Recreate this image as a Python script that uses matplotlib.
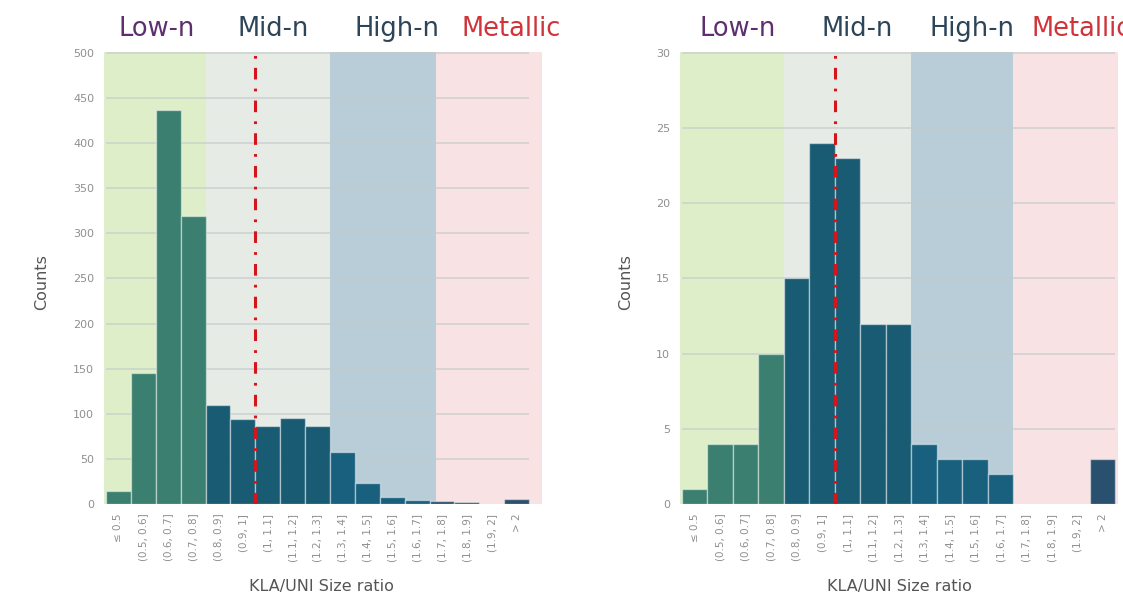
import matplotlib
matplotlib.use("Agg")
import matplotlib.pyplot as plt
import numpy as np

# ---------------- data ----------------
categories = ["≤ 0.5", "(0.5, 0.6]", "(0.6, 0.7]", "(0.7, 0.8]", "(0.8, 0.9]",
              "(0.9, 1]", "(1, 1.1]", "(1.1, 1.2]", "(1.2, 1.3]", "(1.3, 1.4]",
              "(1.4, 1.5]", "(1.5, 1.6]", "(1.6, 1.7]", "(1.7, 1.8]", "(1.8, 1.9]",
              "(1.9, 2]", "> 2"]
counts_left = [14, 145, 437, 319, 110, 94, 87, 95, 86, 58, 23, 8, 4, 3, 2, 0, 6]
counts_right = [1, 4, 4, 10, 15, 24, 23, 12, 12, 4, 3, 3, 2, 0, 0, 0, 3]
# region of each category: 0 low-n, 1 mid-n, 2 high-n, 3 metallic
region_of_cat = [0, 0, 0, 0, 1, 1, 1, 1, 1, 2, 2, 2, 2, 3, 3, 3, 3]
region_names = ["Low-n", "Mid-n", "High-n", "Metallic"]
yticks_left = list(range(0, 501, 50))
yticks_right = list(range(0, 31, 5))
xlabel = "KLA/UNI Size ratio"
ylabel = "Counts"

# ---------------- style ----------------
bar_colors = ["#3a7f6f", "#185b73", "#19607e", "#2a5070"]
band_colors = ["#ddeec9", "#e6ebe5", "#b8cdd8", "#f8e2e3"]
label_colors = ["#5e2f70", "#2d4559", "#2d4559", "#d0343a"]
grid_color = "#c3caca"
tick_color = "#8f8f8f"

W, H = 1123, 597
fig = plt.figure(figsize=(W / 100, H / 100), dpi=100)


def make_panel(px_left, px_right, xlim, ylim, band_edges, counts, yticks,
               ylabel_x, xlabel_cx, top_label_x, top_label_ha, vline_x):
    ax = fig.add_axes([px_left / W, 1 - 504 / H, (px_right - px_left) / W, (504 - 52) / H])
    ax.set_xlim(*xlim)
    ax.set_ylim(*ylim)
    for i in range(4):
        ax.axvspan(band_edges[i], band_edges[i + 1], color=band_colors[i], lw=0, zorder=0)
    for t in yticks[1:]:
        ax.plot([-0.5, len(categories) - 0.5], [t, t], color=grid_color, lw=1.4,
                alpha=0.6, zorder=1, solid_capstyle="butt")
    x = np.arange(len(categories))
    cols = [bar_colors[r] for r in region_of_cat]
    ax.bar(x, counts, width=1.0, color=cols, edgecolor=(1, 1, 1, 0.45), linewidth=1.0, zorder=2)
    ax.plot([vline_x, vline_x], [0, ylim[1]], color="#d4161c", lw=2.2,
            linestyle=(0, (3.8, 3.0, 0.9, 3.0)), zorder=3)
    ax.set_xticks(x)
    ax.set_xticklabels(categories, rotation=90, fontsize=7.5, color=tick_color)
    ax.set_yticks(yticks)
    ax.set_yticklabels([str(t) for t in yticks], fontsize=8, color=tick_color)
    ax.tick_params(length=0, pad=7)
    for s in ax.spines.values():
        s.set_visible(False)
    fig.text(ylabel_x / W, 1 - 282 / H, ylabel, rotation=90, ha="center", va="center",
             fontsize=11.5, color="#555555")
    fig.text(xlabel_cx / W, 1 - 586 / H, xlabel, ha="center", va="center",
             fontsize=11.5, color="#555555")
    for i in range(4):
        fig.text(top_label_x[i] / W, 1 - 36.5 / H, region_names[i], ha=top_label_ha[i],
                 va="baseline", fontsize=18.5, color=label_colors[i])
    return ax


make_panel(104, 542, (-0.58, 17.02), (0, 501), [-0.58, 3.5, 8.5, 12.76, 17.02],
           counts_left, yticks_left, 42, 321,
           [157, 273, 397, 461], ["center", "center", "center", "left"], 5.5)
make_panel(680, 1118, (-0.57, 16.6), (0, 30.06), [-0.57, 3.5, 8.5, 12.5, 16.6],
           counts_right, yticks_right, 626, 899,
           [738, 857, 972, 1031], ["center", "center", "center", "left"], 5.5)

fig.savefig("out.png", dpi=100)
